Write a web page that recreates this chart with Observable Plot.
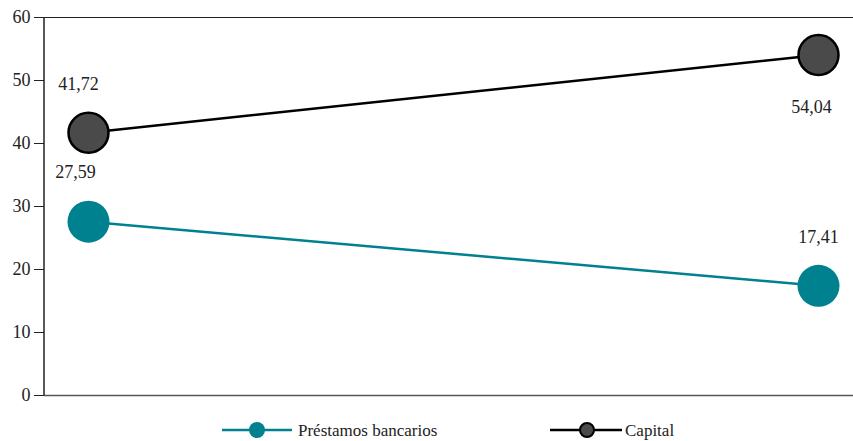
<!DOCTYPE html>
<html>
<head>
<meta charset="utf-8">
<script src="https://cdn.jsdelivr.net/npm/d3@7"></script>
<script src="https://cdn.jsdelivr.net/npm/@observablehq/plot@0.6"></script>
<style>
  body { margin: 0; background: #fff; font-family: "Liberation Serif", "DejaVu Serif", serif; }
  #chart svg { display: block; }
  #chart svg, #chart svg text, #legend text { font-family: "Liberation Serif", "DejaVu Serif", serif !important; }
  #legend { position: relative; height: 36px; width: 853px; }
</style>
</head>
<body>
<div id="chart"></div>
<div id="legend"></div>
<script>
const periods = ["Periodo 1", "Periodo 2"];
const prestamos = [27.59, 17.41];
const capital = [41.72, 54.04];
const seriesNames = ["Préstamos bancarios", "Capital"];
const yTicks = [0, 10, 20, 30, 40, 50, 60];

const teal = "#00818f";
const gray = "#4a4a4a";
const serif = '"Liberation Serif", "DejaVu Serif", serif';

const fmt = v => v.toFixed(2).replace(".", ",");

const rows = [];
periods.forEach((p, i) => {
  rows.push({period: p, value: prestamos[i], series: seriesNames[0], i});
  rows.push({period: p, value: capital[i], series: seriesNames[1], i});
});
const pRows = rows.filter(d => d.series === seriesNames[0]);
const cRows = rows.filter(d => d.series === seriesNames[1]);

const offP = [{dx: -13, dy: -49}, {dx: 0, dy: -49}];
const offC = [{dx: -10, dy: -48}, {dx: -7, dy: 52}];

const labelMarks = [];
pRows.forEach((d, k) => labelMarks.push(Plot.text([d], {x: "period", y: "value", text: d => fmt(d.value), dx: offP[k].dx, dy: offP[k].dy, fontSize: 18, fontFamily: serif, fill: "#222"})));
cRows.forEach((d, k) => labelMarks.push(Plot.text([d], {x: "period", y: "value", text: d => fmt(d.value), dx: offC[k].dx, dy: offC[k].dy, fontSize: 18, fontFamily: serif, fill: "#222"})));

const marginLeft = 44;
const chart = Plot.plot({
  width: 853,
  height: 405,
  marginLeft,
  marginRight: 0,
  marginTop: 17,
  marginBottom: 10,
  style: {fontFamily: serif, fontSize: "18px", color: "#222", background: "#fff"},
  x: {type: "point", domain: periods, range: [88, 818], padding: 0, axis: null},
  y: {domain: [0, 60], ticks: yTicks, tickSize: 10, tickPadding: 4, label: null},
  marks: [
    Plot.ruleY([0], {stroke: "#555", strokeWidth: 1.5}),
    Plot.ruleY([60], {stroke: "#222", strokeWidth: 1}),
    Plot.line(pRows, {x: "period", y: "value", stroke: teal, strokeWidth: 2.5}),
    Plot.line(cRows, {x: "period", y: "value", stroke: "#000", strokeWidth: 2.5}),
    Plot.dot(pRows, {x: "period", y: "value", r: 21, fill: teal, stroke: "none"}),
    Plot.dot(cRows, {x: "period", y: "value", r: 20, fill: gray, stroke: "#000", strokeWidth: 2.5}),
    ...labelMarks
  ]
});
document.getElementById("chart").appendChild(chart);

// vertical y-axis line, positioned with the chart's own y scale
const ys = chart.scale("y");
d3.select(chart).append("line")
  .attr("x1", marginLeft).attr("x2", marginLeft)
  .attr("y1", ys.apply(0)).attr("y2", ys.apply(60))
  .attr("stroke", "#222").attr("stroke-width", 1.5);

// Legend
const lg = d3.select("#legend").append("svg").attr("width", 853).attr("height", 36);
const items = [
  {name: seriesNames[0], x1: 222, x2: 292, cx: 257, line: teal, fill: teal, stroke: "none", r: 8, tx: 298},
  {name: seriesNames[1], x1: 550, x2: 622, cx: 587, line: "#000", fill: gray, stroke: "#000", r: 7, tx: 625}
];
items.forEach(it => {
  lg.append("line").attr("x1", it.x1).attr("x2", it.x2).attr("y1", 25).attr("y2", 25).attr("stroke", it.line).attr("stroke-width", 2.5);
  lg.append("circle").attr("cx", it.cx).attr("cy", 25).attr("r", it.r).attr("fill", it.fill).attr("stroke", it.stroke).attr("stroke-width", 2);
  lg.append("text").attr("x", it.tx).attr("y", 31).attr("font-size", 17).attr("fill", "#222")
    .style("font-family", serif).text(it.name);
});
</script>
</body>
</html>
